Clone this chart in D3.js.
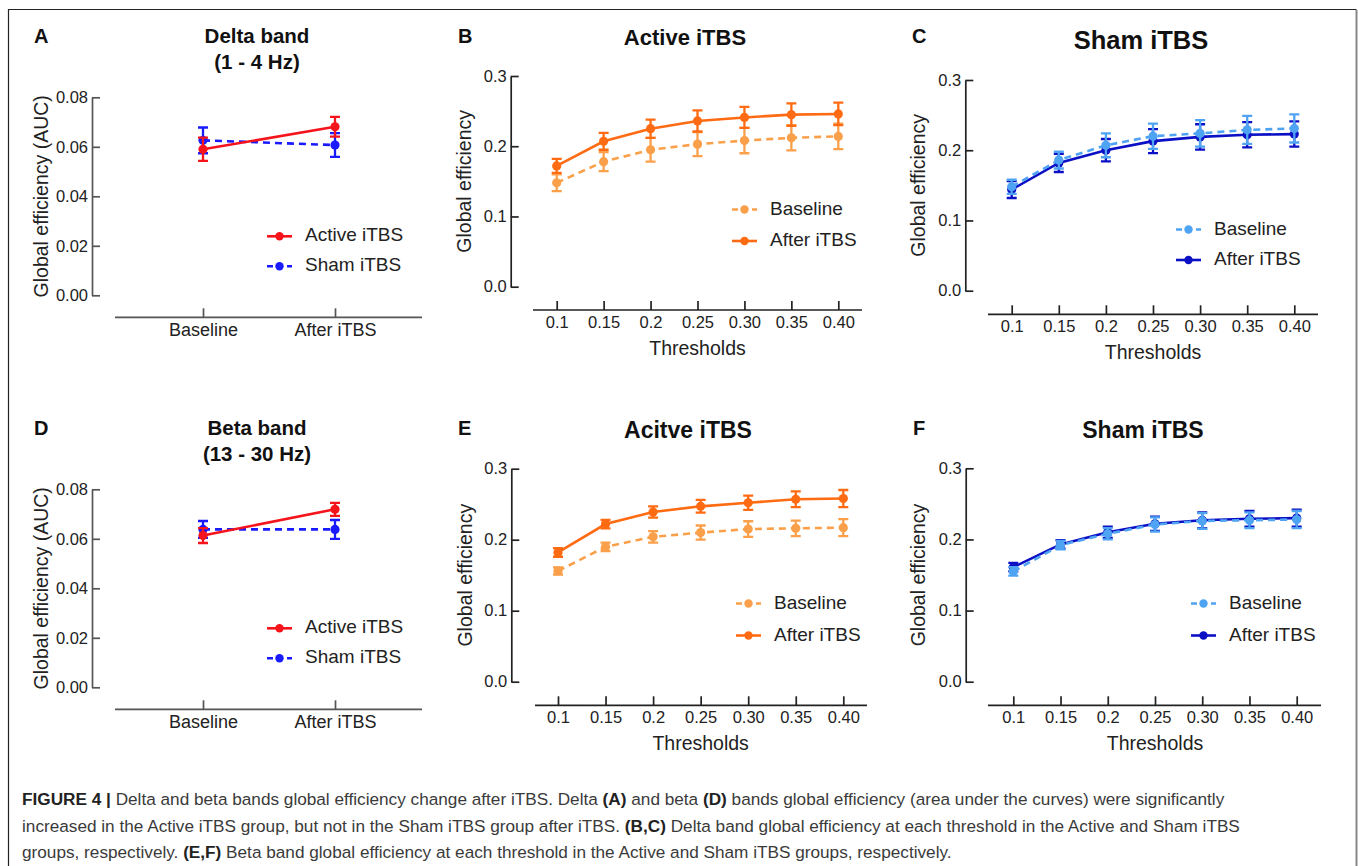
<!DOCTYPE html>
<html>
<head>
<meta charset="utf-8">
<script src="https://cdn.jsdelivr.net/npm/d3@7"></script>
<style>
  html, body { margin: 0; padding: 0; background: #fff; }
  svg { display: block; font-family: "Liberation Sans", Arial, Helvetica, sans-serif; }
</style>
</head>
<body>
<div id="chart"></div>
<script>
const W = 1358, H = 866;

// ---- data ----
const groups = ['Baseline', 'After iTBS'];
const thresholds = ['0.1', '0.15', '0.2', '0.25', '0.30', '0.35', '0.40'];

// panel A: delta band AUC
const deltaActive = [0.0590, 0.0681];
const deltaActiveErr = [0.0047, 0.0040];
const deltaSham = [0.0626, 0.0607];
const deltaShamErr = [0.0052, 0.0048];

// panel D: beta band AUC
const betaActive = [0.0613, 0.0719];
const betaActiveErr = [0.0030, 0.0026];
const betaSham = [0.0638, 0.0638];
const betaShamErr = [0.0034, 0.0038];

// panel B: delta, active
const deltaActBase = [0.148, 0.178, 0.195, 0.203, 0.208, 0.212, 0.214];
const deltaActBaseErr = [0.012, 0.0135, 0.017, 0.017, 0.018, 0.018, 0.018];
const deltaActAfter = [0.172, 0.207, 0.225, 0.236, 0.241, 0.245, 0.246];
const deltaActAfterErr = [0.010, 0.012, 0.013, 0.015, 0.015, 0.016, 0.016];

// panel C: delta, sham
const deltaShamBase = [0.148, 0.186, 0.207, 0.220, 0.224, 0.229, 0.231];
const deltaShamBaseErr = [0.010, 0.012, 0.017, 0.018, 0.019, 0.020, 0.020];
const deltaShamAfter = [0.144, 0.182, 0.200, 0.213, 0.219, 0.222, 0.223];
const deltaShamAfterErr = [0.012, 0.013, 0.016, 0.017, 0.018, 0.018, 0.018];

// panel E: beta, active
const betaActBase = [0.156, 0.190, 0.204, 0.210, 0.215, 0.216, 0.217];
const betaActBaseErr = [0.005, 0.006, 0.008, 0.010, 0.011, 0.011, 0.012];
const betaActAfter = [0.182, 0.222, 0.239, 0.247, 0.252, 0.257, 0.258];
const betaActAfterErr = [0.006, 0.006, 0.008, 0.009, 0.010, 0.011, 0.012];

// panel F: beta, sham
const betaShamBase = [0.155, 0.192, 0.208, 0.221, 0.226, 0.227, 0.228];
const betaShamBaseErr = [0.006, 0.006, 0.008, 0.010, 0.011, 0.011, 0.012];
const betaShamAfter = [0.161, 0.193, 0.210, 0.222, 0.227, 0.229, 0.230];
const betaShamAfterErr = [0.006, 0.006, 0.008, 0.010, 0.011, 0.011, 0.012];

const aucTicks = [0, 0.02, 0.04, 0.06, 0.08];
const geTicks = [0, 0.1, 0.2, 0.3];

const RED = '#f5141b', BLUE = '#1a1aff';
const ORANGE = '#ff6b12', LORANGE = '#fba04a';
const DBLUE = '#0c10c4', LBLUE = '#4fa3f3';

const svg = d3.select('#chart').append('svg')
  .attr('width', W).attr('height', H);

// frame
svg.append('path')
  .attr('d', `M8.5,${H} V9.5 H1356.5`)
  .attr('fill', 'none').attr('stroke', '#222').attr('stroke-width', 1.2);
svg.append('line')
  .attr('x1', 1356.5).attr('x2', 1356.5).attr('y1', 10).attr('y2', H)
  .attr('stroke', '#888').attr('stroke-width', 2);

function drawPanel(p) {
  const g = svg.append('g');
  const y = d3.scaleLinear().domain([0, p.ymax]).range([p.y0, p.y1]);
  const x = d3.scalePoint().domain(p.cats).range([p.x0, p.x1]);

  // panel letter + title
  g.append('text').attr('x', p.letterX).attr('y', p.letterY)
    .attr('font-weight', 'bold').attr('font-size', 20).attr('fill', '#111').text(p.letter);
  p.title.forEach((t, i) => {
    g.append('text').attr('x', p.titleX).attr('y', p.titleY + i * 26)
      .attr('text-anchor', 'middle').attr('font-weight', 'bold')
      .attr('font-size', p.titleSize).attr('fill', '#111').text(t);
  });

  // y axis
  const ya = g.append('g').attr('transform', `translate(${p.ax},0)`)
    .call(d3.axisLeft(y).tickValues(p.ticks).tickFormat(d3.format(p.fmt))
      .tickSizeInner(-8).tickSizeOuter(0).tickPadding(4));
  ya.selectAll('path, line').attr('stroke', p.axisColor).attr('stroke-width', 1.7);
  ya.selectAll('text').attr('font-size', 16.5).attr('fill', '#222')
    .attr('font-family', '"Liberation Sans", Arial, sans-serif');

  g.append('text')
    .attr('transform', `translate(${p.ylabX},${(p.y0 + p.y1) / 2}) rotate(-90)`)
    .attr('text-anchor', 'middle').attr('dominant-baseline', 'middle')
    .attr('font-size', 19.5).attr('fill', '#222').text(p.ylab);

  // x axis
  const xa = g.append('g').attr('transform', `translate(0,${p.xy})`)
    .call(d3.axisBottom(x).tickSizeInner(-9).tickSizeOuter(0).tickPadding(6));
  xa.select('.domain').remove();
  xa.selectAll('line').attr('stroke', p.axisColor).attr('stroke-width', 1.7);
  xa.selectAll('text').attr('font-size', p.xtickSize).attr('fill', '#222')
    .attr('font-family', '"Liberation Sans", Arial, sans-serif');
  g.append('line').attr('x1', p.xl0).attr('x2', p.xl1).attr('y1', p.xy).attr('y2', p.xy)
    .attr('stroke', p.axisColor).attr('stroke-width', 1.7);
  if (p.xlab) {
    g.append('text').attr('x', (p.x0 + p.x1) / 2).attr('y', p.xy + 45)
      .attr('text-anchor', 'middle').attr('font-size', 19.5).attr('fill', '#222').text(p.xlab);
  }

  // series (drawn in the given order, last one on top)
  p.drawOrder.forEach(k => {
    const s = p.series[k];
    const pts = p.cats.map((c, i) => ({ c, v: s.values[i], e: s.err[i] }));
    const sg = g.append('g');
    sg.selectAll('.eb').data(pts).enter().append('path')
      .attr('d', d => {
        const cx = x(d.c), t = y(d.v + d.e), b = y(d.v - d.e);
        return `M${cx},${t}V${b}M${cx - 5},${t}H${cx + 5}M${cx - 5},${b}H${cx + 5}`;
      })
      .attr('fill', 'none').attr('stroke', s.color).attr('stroke-width', 2.3);
    sg.append('path').datum(pts)
      .attr('d', d3.line().x(d => x(d.c)).y(d => y(d.v)))
      .attr('fill', 'none').attr('stroke', s.color).attr('stroke-width', 2.6)
      .attr('stroke-dasharray', s.dash ? '7,5' : null);
    sg.selectAll('circle').data(pts).enter().append('circle')
      .attr('cx', d => x(d.c)).attr('cy', d => y(d.v)).attr('r', 4.6)
      .attr('fill', s.color);
  });

  // legend
  p.series.forEach((s, i) => {
    const ly = p.legY + i * p.legGap;
    g.append('line').attr('x1', p.legX).attr('x2', p.legX + 25).attr('y1', ly).attr('y2', ly)
      .attr('stroke', s.color).attr('stroke-width', 2.6)
      .attr('stroke-dasharray', s.dash ? '6,4' : null);
    g.append('circle').attr('cx', p.legX + 12.5).attr('cy', ly).attr('r', 4.2).attr('fill', s.color);
    g.append('text').attr('x', p.legX + 38).attr('y', ly).attr('dominant-baseline', 'middle')
      .attr('font-size', 19).attr('fill', '#222').text(s.name);
  });
}

function aucPanel(letter, ly, title, act, actErr, sham, shamErr, top) {
  drawPanel({
    letter, letterX: 34, letterY: ly, title, titleX: 257, titleY: ly, titleSize: 20.5,
    cats: groups, x0: 203, x1: 335, ymax: 0.08, y0: top + 198, y1: top, ax: 92,
    ticks: aucTicks, fmt: '.2f', axisColor: '#555', xtickSize: 18,
    ylab: 'Global efficiency (AUC)', ylabX: 43,
    xy: top + 220, xl0: 115, xl1: 422, xlab: null,
    series: [
      { name: 'Active iTBS', values: act, err: actErr, color: RED, dash: false },
      { name: 'Sham iTBS', values: sham, err: shamErr, color: BLUE, dash: true }
    ],
    drawOrder: [1, 0], legX: 267, legY: top + 139, legGap: 30
  });
}

function gePanel(o) {
  drawPanel(Object.assign({
    ymax: 0.3, ticks: geTicks, fmt: '.1f', axisColor: '#222', xtickSize: 16.5,
    ylab: 'Global efficiency', xlab: 'Thresholds', cats: thresholds, legGap: 31.5,
    drawOrder: [1, 0]
  }, o));
}

aucPanel('A', 43, ['Delta band', '(1 - 4 Hz)'], deltaActive, deltaActiveErr, deltaSham, deltaShamErr, 97.3);
aucPanel('D', 435, ['Beta band', '(13 - 30 Hz)'], betaActive, betaActiveErr, betaSham, betaShamErr, 489.3);

gePanel({
  letter: 'B', letterX: 458, letterY: 43, title: ['Active iTBS'], titleX: 685, titleY: 45, titleSize: 22,
  x0: 556.7, x1: 838.3, y0: 286.7, y1: 76, ax: 510.7, ylabX: 466,
  xy: 310, xl0: 533, xl1: 862,
  series: [
    { name: 'Baseline', values: deltaActBase, err: deltaActBaseErr, color: LORANGE, dash: true },
    { name: 'After iTBS', values: deltaActAfter, err: deltaActAfterErr, color: ORANGE, dash: false }
  ],
  drawOrder: [0, 1], legX: 732, legY: 209.5
});

gePanel({
  letter: 'C', letterX: 912, letterY: 43, title: ['Sham iTBS'], titleX: 1141, titleY: 48.5, titleSize: 25.5,
  x0: 1011.7, x1: 1294.3, y0: 290.7, y1: 80, ax: 965.3, ylabX: 920,
  xy: 314.3, xl0: 988, xl1: 1318,
  series: [
    { name: 'Baseline', values: deltaShamBase, err: deltaShamBaseErr, color: LBLUE, dash: true },
    { name: 'After iTBS', values: deltaShamAfter, err: deltaShamAfterErr, color: DBLUE, dash: false }
  ],
  legX: 1176, legY: 229.5, legGap: 30.5
});

gePanel({
  letter: 'E', letterX: 458, letterY: 435, title: ['Acitve iTBS'], titleX: 688, titleY: 437.5, titleSize: 23,
  x0: 558, x1: 843.3, y0: 681.7, y1: 468.7, ax: 511.3, ylabX: 467,
  xy: 705.3, xl0: 535, xl1: 867,
  series: [
    { name: 'Baseline', values: betaActBase, err: betaActBaseErr, color: LORANGE, dash: true },
    { name: 'After iTBS', values: betaActAfter, err: betaActAfterErr, color: ORANGE, dash: false }
  ],
  drawOrder: [0, 1], legX: 736, legY: 603.5, legGap: 32
});

gePanel({
  letter: 'F', letterX: 913, letterY: 435, title: ['Sham iTBS'], titleX: 1143, titleY: 437.5, titleSize: 23,
  x0: 1013.3, x1: 1296.7, y0: 681.7, y1: 468.3, ax: 965.7, ylabX: 920,
  xy: 705.3, xl0: 988, xl1: 1321,
  series: [
    { name: 'Baseline', values: betaShamBase, err: betaShamBaseErr, color: LBLUE, dash: true },
    { name: 'After iTBS', values: betaShamAfter, err: betaShamAfterErr, color: DBLUE, dash: false }
  ],
  legX: 1191, legY: 603.5, legGap: 32
});

// caption
const caption = [
  [['FIGURE 4 |', true], [' Delta and beta bands global efficiency change after iTBS. Delta ', false], ['(A)', true],
   [' and beta ', false], ['(D)', true], [' bands global efficiency (area under the curves) were significantly', false]],
  [['increased in the Active iTBS group, but not in the Sham iTBS group after iTBS. ', false], ['(B,C)', true],
   [' Delta band global efficiency at each threshold in the Active and Sham iTBS', false]],
  [['groups, respectively. ', false], ['(E,F)', true],
   [' Beta band global efficiency at each threshold in the Active and Sham iTBS groups, respectively.', false]]
];
caption.forEach((line, i) => {
  const t = svg.append('text').attr('x', 22).attr('y', 805 + i * 26.5)
    .attr('font-size', 17.2).attr('fill', '#3a3a3a');
  line.forEach(([s, b]) => {
    t.append('tspan').attr('font-weight', b ? 'bold' : null)
      .attr('fill', b ? '#222' : null).text(s);
  });
});
</script>
</body>
</html>
